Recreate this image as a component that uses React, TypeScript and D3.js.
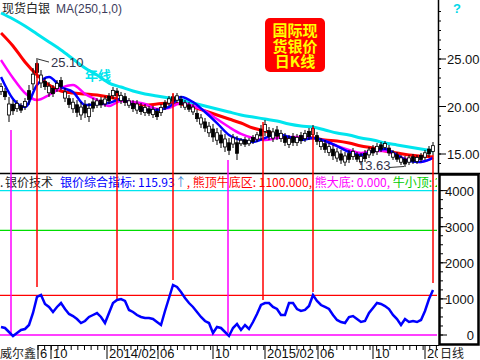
import React from 'react';
import * as d3 from 'd3';

// ---- daily bars (sampled), price in USD/oz ----
const barHigh = [22.47, 21.95, 21.0, 20.68, 20.68, 20.37, 20.89, 22.26, 24.05, 25.1, 23.84, 23.0, 22.58, 22.26, 22.79, 23.11, 21.95, 21.21, 20.89, 20.68, 20.47, 20.68, 20.37, 20.89, 20.89, 21.0, 21.11, 21.42, 22.05, 21.95, 21.53, 21.42, 20.89, 20.68, 20.68, 20.37, 20.26, 20.05, 20.05, 19.84, 20.26, 20.68, 21.11, 21.32, 21.42, 21.11, 20.68, 20.47, 20.26, 19.63, 19.21, 18.79, 18.37, 18.16, 17.74, 17.53, 17.11, 16.68, 17.11, 16.89, 16.68, 16.79, 16.68, 17.0, 17.32, 18.05, 18.58, 17.84, 17.74, 17.95, 17.53, 17.21, 17.0, 17.21, 17.11, 17.32, 17.53, 17.74, 18.05, 17.32, 16.68, 16.47, 16.16, 15.95, 15.63, 15.42, 15.21, 15.42, 15.63, 15.21, 15.11, 15.42, 15.74, 15.95, 16.16, 16.26, 16.37, 15.95, 15.42, 15.21, 14.89, 14.79, 14.89, 15.0, 14.89, 15.11, 15.42, 15.84, 16.26];
const barLow = [21.21, 20.68, 18.37, 19.11, 19.42, 19.32, 19.63, 20.16, 21.74, 23.0, 21.95, 21.74, 21.0, 21.0, 21.53, 21.74, 20.47, 19.84, 19.32, 18.89, 18.58, 18.79, 18.37, 19.42, 19.84, 19.84, 19.95, 20.26, 20.79, 20.79, 20.26, 20.05, 19.84, 19.42, 19.21, 19.11, 19.0, 19.0, 18.79, 18.58, 19.0, 19.63, 20.05, 20.26, 20.37, 19.84, 19.63, 19.42, 19.11, 18.37, 17.74, 17.32, 16.79, 16.26, 15.95, 15.63, 15.21, 14.89, 15.63, 14.37, 15.84, 15.74, 15.84, 16.05, 16.26, 16.47, 16.89, 16.47, 16.26, 16.47, 16.26, 15.84, 15.63, 15.84, 15.84, 16.05, 16.26, 16.47, 16.68, 15.95, 15.42, 15.11, 14.79, 14.37, 14.16, 13.95, 13.74, 14.05, 14.37, 14.16, 13.84, 14.16, 14.58, 14.79, 14.89, 15.21, 15.42, 14.79, 14.37, 14.16, 13.84, 13.63, 13.84, 13.95, 13.95, 14.16, 14.37, 14.68, 14.89];

// ---- moving averages (one value every 3 bars) ----
const maYear = [29.84, 29.21, 28.47, 27.63, 26.79, 25.95, 25.0, 24.05, 23.32, 22.47, 22.05, 21.63, 21.32, 21.11, 20.89, 20.68, 20.37, 20.05, 19.74, 19.42, 19.11, 18.89, 18.68, 18.47, 18.16, 17.95, 17.84, 17.53, 17.21, 17.0, 16.68, 16.47, 16.16, 15.95, 15.74, 15.53, 15.32];
const maHalfYear = [27.74, 26.37, 24.68, 23.32, 22.26, 21.63, 21.42, 21.32, 21.21, 21.0, 20.68, 20.37, 20.16, 20.26, 20.37, 20.26, 19.95, 19.53, 19.11, 18.68, 18.26, 17.74, 17.42, 17.0, 16.68, 16.68, 16.68, 16.47, 16.37, 16.16, 15.84, 15.63, 15.32, 15.11, 14.89, 14.79, 14.68];
const maQuarter = [24.89, 23.0, 21.42, 20.68, 21.21, 21.95, 22.26, 21.32, 20.68, 20.05, 20.58, 20.47, 20.26, 19.74, 19.84, 20.37, 20.05, 19.53, 18.68, 17.84, 17.11, 16.68, 16.47, 16.68, 16.79, 16.79, 16.68, 16.37, 15.84, 15.42, 15.11, 15.32, 15.32, 14.79, 14.37, 14.16, 14.58];
const maMonth = [23.11, 20.79, 19.95, 22.26, 23.11, 22.05, 21.53, 20.16, 20.26, 20.37, 20.79, 20.16, 19.63, 19.63, 19.95, 21.0, 20.47, 19.42, 18.26, 17.0, 16.47, 16.26, 16.68, 17.11, 16.79, 16.47, 16.68, 16.37, 15.84, 15.21, 14.89, 15.32, 15.53, 14.89, 14.26, 14.16, 14.58];

// ---- composite oscillator (one value per bar) ----
const oscValues = [222, 194, 83, -28, 55, 139, 166, 277, 609, 1053, 1108, 859, 776, 637, 776, 886, 720, 582, 526, 443, 332, 388, 499, 554, 609, 499, 332, 609, 886, 970, 997, 942, 693, 637, 554, 499, 471, 471, 443, 360, 277, 665, 1025, 1385, 1330, 1191, 1025, 886, 776, 637, 499, 388, 332, 55, 222, 194, 83, -28, 194, 305, 139, 277, 166, 360, 582, 831, 886, 886, 776, 720, 554, 554, 886, 886, 720, 665, 693, 803, 1108, 942, 831, 776, 720, 554, 416, 360, 332, 499, 526, 443, 360, 388, 609, 748, 886, 859, 803, 720, 554, 443, 277, 443, 360, 388, 360, 416, 665, 997, 1247];

// reference levels of the oscillator
const levelValues = [4000, 2900, 1100, 0];
const levelColors = ['#00e5ee', '#00dd00', '#ff0000', '#ff00ff'];

// signal lines: tops (red) and bottoms (magenta)
const topIdx = [9, 29, 43, 65.5, 78, 108];
const topPrice = [24.6, 21.42, 21.42, 18.37, 17.84, 14.89];
const topOsc = [1330, 970, 1524, 970, 1191, 1440];
const bottomIdx = [2.5, 56.75];
const bottomPrice = [17.53, 14.37];
const bottomOsc = [55, 55];

const priceTicks = [15, 20, 25];
const oscTicks = [0, 1000, 2000, 3000, 4000];
const monthLabels = ['6', '10', '2014/02', '06', '10', '2015/02', '06', '10', '20'];
const monthPos = [9.25, 12.5, 26.5, 39.25, 53, 66, 79.25, 93, 106];

const NUM = '"Liberation Sans", Arial, sans-serif';
const CJK = '"Noto Sans CJK SC", "Noto Sans", sans-serif';

export default function App() {
  const x = d3.scaleLinear().domain([0, 108]).range([1, 433]);
  const py = d3.scaleLinear().domain([15, 25]).range([154, 59]);
  const oy = d3.scaleLinear().domain([0, 4000]).range([335, 190.6]);
  const maIdx = d3.range(0, 109, 3);
  const maLine = d3
    .line<number>()
    .x((_, i) => x(maIdx[i]))
    .y((d) => py(d))
    .curve(d3.curveMonotoneX);
  const oscLine = d3
    .line<number>()
    .x((_, i) => x(i))
    .y((d) => oy(d));

  const minorPrice = d3.range(14, 31, 1);
  const minorOsc = d3.range(0, 4250, 250);
  const minorTime = d3.range(9.25, 109, 1.66);

  const lowIdx = barLow.indexOf(d3.min(barLow) as number);
  const highIdx = barHigh.indexOf(d3.max(barHigh) as number);

  return (
    <svg width={480} height={360} style={{ position: 'fixed', left: 0, top: 0, background: '#fff' }}>
      <defs>
        <clipPath id="pricePanel">
          <rect x={0} y={0} width={438} height={173} />
        </clipPath>
        <clipPath id="oscPanel">
          <rect x={0} y={174} width={437} height={171} />
        </clipPath>
      </defs>
      <rect x={0} y={0} width={480} height={360} fill="#fff" />

      {/* title */}
      <text x={2} y={13} fontFamily={CJK} fontSize={12} fill="#222">现货白银</text>
      <text x={56} y={13} fontFamily={NUM} fontSize={12} fill="#3c3c5c">MA(250,1,0)</text>

      {/* price panel */}
      <g clipPath="url(#pricePanel)">
        <path d={maLine(maYear) || ''} fill="none" stroke="#00e5ee" strokeWidth={3} />
        <path d={maLine(maHalfYear) || ''} fill="none" stroke="#ff0000" strokeWidth={3} />
        <path d={maLine(maQuarter) || ''} fill="none" stroke="#ff00ff" strokeWidth={2.5} />
        <path d={maLine(maMonth) || ''} fill="none" stroke="#0000ff" strokeWidth={2.5} />
        {barHigh.map((h, i) => {
          const l = barLow[i];
          const r = h - l;
          const top = py(h - r * 0.28);
          const bot = py(l + r * 0.28);
          return (
            <g key={i}>
              <line x1={x(i)} x2={x(i)} y1={py(h)} y2={py(l)} stroke="#000" strokeWidth={1} />
              <rect
                x={x(i) - 1.5}
                y={top}
                width={3}
                height={Math.max(1, bot - top)}
                fill={i % 2 ? '#000' : '#fff'}
                stroke="#000"
                strokeWidth={0.8}
              />
            </g>
          );
        })}
      </g>

      {/* annotations */}
      <line x1={x(highIdx) + 1} y1={py(barHigh[highIdx]) + 1} x2={x(highIdx) + 12} y2={py(barHigh[highIdx]) + 4} stroke="#333" strokeWidth={1} />
      <text x={51} y={67} fontFamily={NUM} fontSize={13} fill="#33334a">{barHigh[highIdx].toFixed(2)}</text>
      <line x1={389} y1={py(barLow[lowIdx]) + 0.5} x2={x(lowIdx) - 1} y2={py(barLow[lowIdx]) - 0.5} stroke="#333" strokeWidth={1} />
      <text x={358} y={170} fontFamily={NUM} fontSize={13} fill="#33334a">{barLow[lowIdx].toFixed(2)}</text>
      <text x={85} y={80} fontFamily={CJK} fontSize={13} fontWeight="bold" fill="#00e5ee">年线</text>

      {/* red label box */}
      <rect x={265} y={18} width={60} height={54} rx={5} fill="#ff0000" />
      <g fontFamily={CJK} fontSize={15} fontWeight="bold" fill="#ffff00" textAnchor="middle">
        <text x={295} y={36}>国际现</text>
        <text x={295} y={52}>货银价</text>
        <text x={295} y={67}>日K线</text>
      </g>

      {/* price axis */}
      <line x1={438.5} x2={438.5} y1={0} y2={174} stroke="#000" strokeWidth={1.5} />
      {minorPrice.map((v) => (
        <line key={v} x1={439} x2={441} y1={py(v)} y2={py(v)} stroke="#000" strokeWidth={1} />
      ))}
      {priceTicks.map((v) => (
        <g key={v}>
          <line x1={438} x2={446} y1={py(v)} y2={py(v)} stroke="#000" strokeWidth={1} />
          <text x={447} y={py(v) + 5} fontFamily={NUM} fontSize={13} fill="#111">{v.toFixed(2)}</text>
        </g>
      ))}
      <text x={453} y={13} fontFamily={NUM} fontSize={13} fontWeight="bold" fill="#00d8e8">?</text>

      {/* panel separator */}
      <line x1={0} x2={480} y1={173.5} y2={173.5} stroke="#000" strokeWidth={1.5} />

      {/* oscillator panel */}
      <g clipPath="url(#oscPanel)">
        <text y={187} fontFamily={CJK} fontSize={12}>
          <tspan x={0} fill="#222">.</tspan>
          <tspan x={5} fill="#222">银价技术</tspan>
          <tspan x={60} fill="#0000ff">银价综合指标: 115.93</tspan>
          <tspan fill="#3a8ad8">↑</tspan>
          <tspan fill="#ff0000">, 熊顶牛底区: 1100.000,</tspan>
          <tspan fill="#ff00ff"> 熊大底: 0.000,</tspan>
          <tspan fill="#00cc00"> 牛小顶: 2</tspan>
        </text>
        {levelValues.map((v, i) => (
          <line key={v} x1={0} x2={438} y1={oy(v)} y2={oy(v)} stroke={levelColors[i]} strokeWidth={1.3} />
        ))}
      </g>

      {/* signal lines */}
      {topIdx.map((t, i) => (
        <line key={'t' + i} x1={x(t)} x2={x(t)} y1={py(topPrice[i])} y2={oy(topOsc[i])} stroke="#ff0000" strokeWidth={1.5} />
      ))}
      {bottomIdx.map((t, i) => (
        <line key={'b' + i} x1={x(t)} x2={x(t)} y1={py(bottomPrice[i])} y2={oy(bottomOsc[i])} stroke="#ff00ff" strokeWidth={1.5} />
      ))}

      <path d={oscLine(oscValues) || ''} fill="none" stroke="#0000ff" strokeWidth={2.5} strokeLinejoin="miter" />

      {/* oscillator axis box */}
      <rect x={439.5} y={174.5} width={39} height={170} fill="none" stroke="#000" strokeWidth={2.5} />
      {minorOsc.map((v) => (
        <line key={v} x1={440} x2={443} y1={oy(v)} y2={oy(v)} stroke="#000" strokeWidth={1} />
      ))}
      {oscTicks.map((v) => (
        <g key={v}>
          <line x1={440} x2={447} y1={oy(v)} y2={oy(v)} stroke="#000" strokeWidth={1} />
          <text x={474} y={oy(v) + 5} textAnchor="end" fontFamily={NUM} fontSize={13} fill="#111">{v}</text>
        </g>
      ))}

      {/* time axis */}
      <line x1={38} x2={439} y1={345.5} y2={345.5} stroke="#000" strokeWidth={1} />
      {minorTime.map((t, i) => (
        <line key={i} x1={x(t)} x2={x(t)} y1={345} y2={350} stroke="#000" strokeWidth={1} />
      ))}
      {monthPos.map((t, i) => (
        <g key={'m' + i}>
          <line x1={x(t)} x2={x(t)} y1={345} y2={359} stroke="#000" strokeWidth={1} />
          <text x={x(t) + 2} y={358} fontFamily={NUM} fontSize={13} fill="#111">{monthLabels[i]}</text>
        </g>
      ))}
      <rect x={0} y={346} width={37} height={14} fill="#fff" />
      <text x={0} y={358} fontFamily={CJK} fontSize={12} fill="#222">威尔鑫</text>
      <rect x={438} y={346} width={42} height={14} fill="#fff" />
      <text x={440} y={358} fontFamily={CJK} fontSize={12} fill="#222">日线</text>
    </svg>
  );
}
